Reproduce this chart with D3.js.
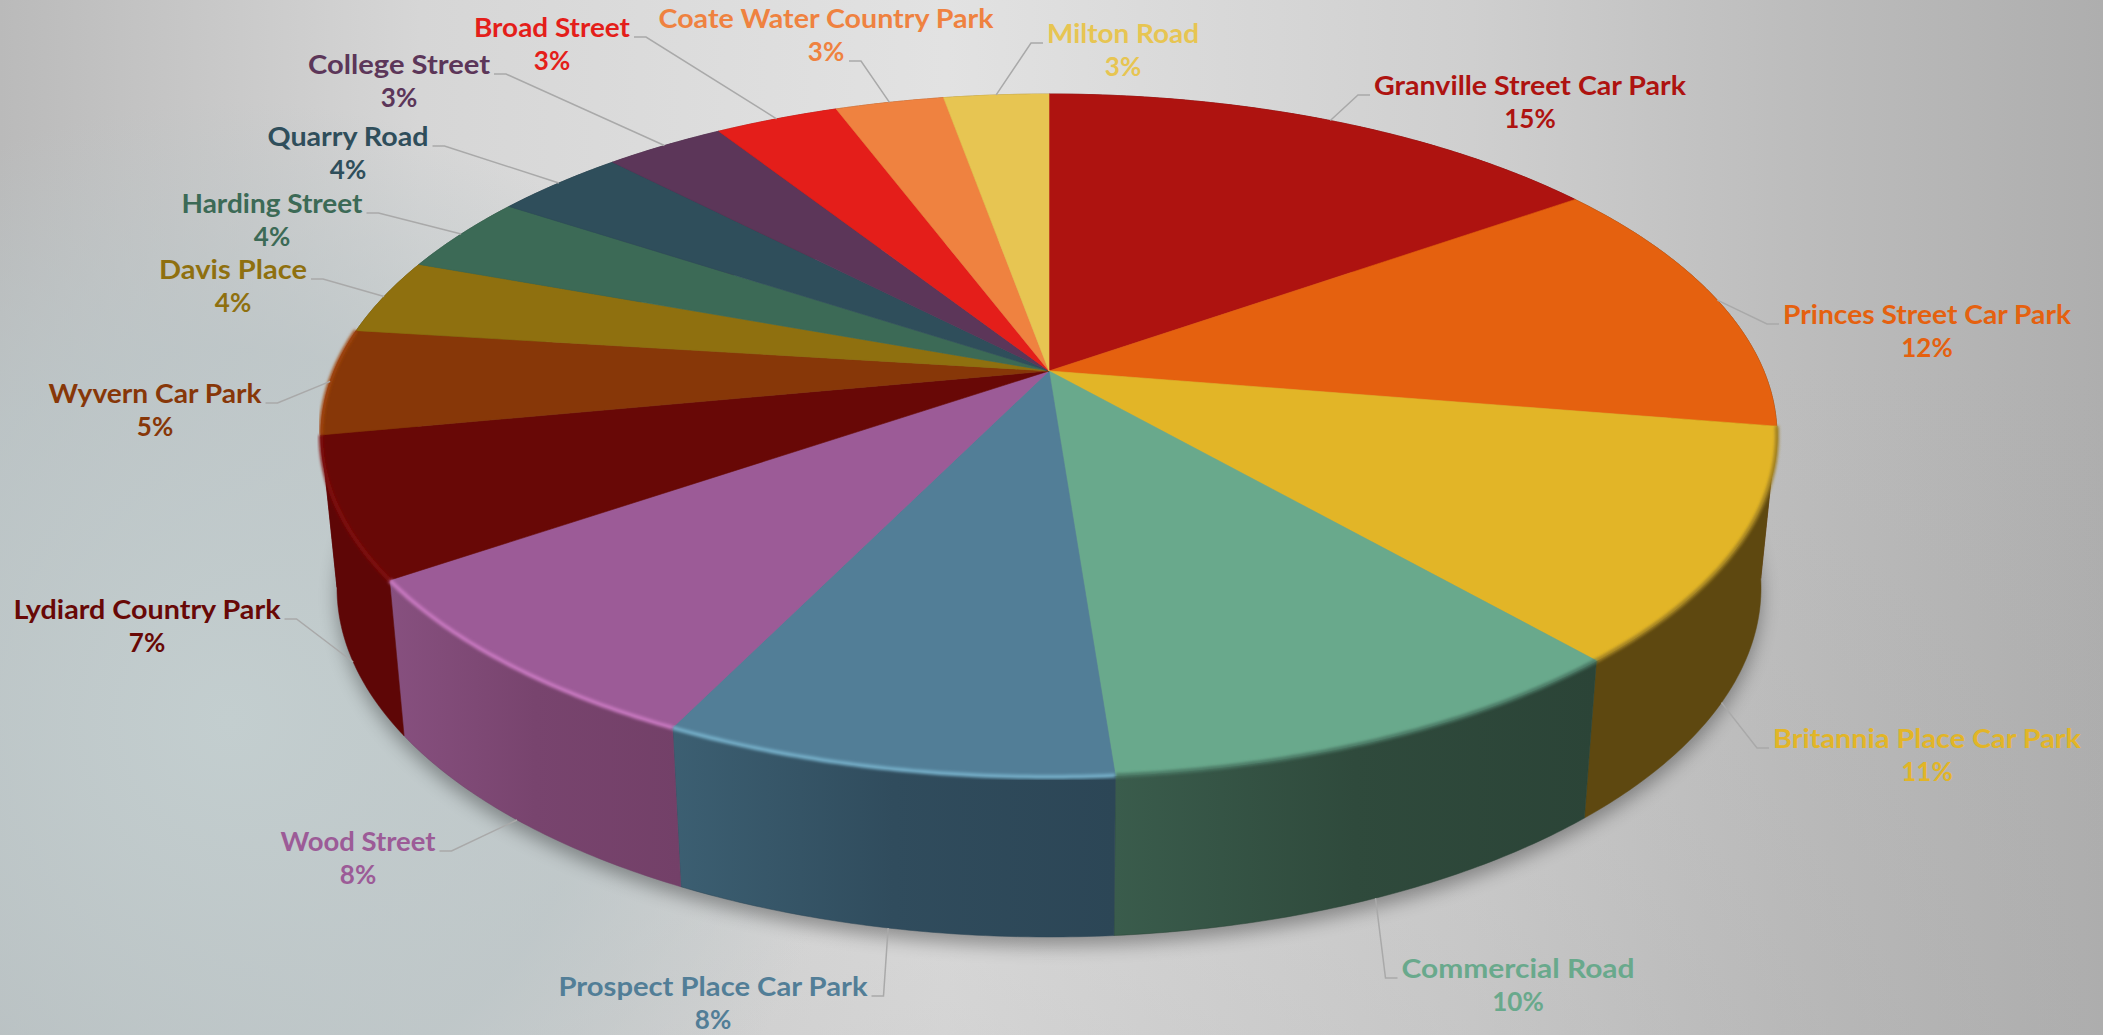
<!DOCTYPE html>
<html>
<head>
<meta charset="utf-8">
<script src="https://cdn.jsdelivr.net/npm/d3@7"></script>
<style>
html, body { margin: 0; padding: 0; background: #ccc; overflow: hidden; }
text { font-family: Lato, sans-serif; font-weight: 700; }
</style>
</head>
<body>
<div id="chart"></div>
<script>
// data, percentages (labels show them rounded)
var names = ["Granville Street Car Park", "Princes Street Car Park", "Britannia Place Car Park", "Commercial Road",
    "Prospect Place Car Park", "Wood Street", "Lydiard Country Park", "Wyvern Car Park", "Davis Place",
    "Harding Street", "Quarry Road", "College Street", "Broad Street", "Coate Water Country Park", "Milton Road"];
var values = [15.2, 12.4, 11.0, 10.2, 8.4, 8.2, 6.6, 5.0, 3.6, 3.7, 3.5, 3.2, 3.3, 2.9, 2.8];

// styles
var topColors = ["#ae1310", "#e5610f", "#e2b527", "#69a98c", "#527e97", "#9c5b97", "#680806", "#873708",
    "#8f700f", "#3c6a56", "#2f4e5b", "#5c3659", "#e41e1a", "#ef8240", "#e7c552"];
var wallLeft = ["#5e0a08", "#5e3008", "#5e4810", "#3a5c4c", "#3c5f72", "#87507f", "#5e0606", "#5e0606",
    "#5e4a0a", "#284638", "#1f343d", "#3d243b", "#8a1210", "#8a4a20", "#8a7430"];
var wallRight = ["#5e0a08", "#5e3008", "#5e4810", "#2b4437", "#2c4656", "#734068", "#5e0606", "#5e0606",
    "#5e4a0a", "#284638", "#1f343d", "#3d243b", "#8a1210", "#8a4a20", "#8a7430"];
var bevelColors = [null, null, "#a08020", "#4a7763", "#74aec8", "#c878c0", "#7f0f0a", "#a04510",
    null, null, null, null, null, null, null];

// label layout: centre x, baseline of the name, width of the name
var labelX = [1530, 1927, 1927, 1518, 713, 358, 147, 155, 233, 272, 348, 399, 552, 826, 1123];
var labelY = [95, 324, 748, 978, 996, 851, 619, 403, 279, 213, 146, 74, 37, 28, 43];
var labelW = [312, 288, 308, 233, 309, 155, 267, 213, 148, 181, 161, 182, 156, 335, 152];
var percentLeader = [13]; // this label's leader line meets the percent line, not the name

var width = 2103, height = 1035;

var svg = d3.select("#chart").append("svg")
    .attr("width", width)
    .attr("height", height)
    .style("display", "block");

var defs = svg.append("defs");

// the two rims of the pie seen in perspective
var topRim = { cx: 1049, cy: 435.5, rx: 728, ry: 341.5 };
var baseRim = { cx: 1049, cy: 588, rx: 712, ry: 349 };
var tilt = -0.189; // where the pie centre lands inside the rim, as a share of ry

function project(rim, angle) {
    // angle is clockwise from 12 o'clock on the flat pie
    var x = Math.sin(angle), y = -Math.cos(angle);
    var d = 1 + tilt * y;
    return [rim.cx + rim.rx * x * Math.sqrt(1 - tilt * tilt) / d,
        rim.cy + rim.ry * (y + tilt) / d];
}

function arcPoints(rim, a0, a1) {
    var n = Math.max(2, Math.ceil(Math.abs(a1 - a0) / 0.01));
    var t = d3.scaleLinear().domain([0, n]).range([a0, a1]);
    return d3.range(n + 1).map(function (i) { return project(rim, t(i)); });
}

var line = d3.line();
var centre = [topRim.cx, topRim.cy + topRim.ry * tilt];

var pie = d3.pie().sort(null).value(function (d) { return d; });
var slices = pie(values);

// background
var bg = defs.append("linearGradient").attr("id", "bgTop").attr("x1", 0).attr("x2", 1).attr("y1", 0).attr("y2", 0);
[[0, "#bababa"], [0.2, "#d6d6d6"], [0.45, "#e2e2e2"], [0.7, "#cfcfcf"], [0.85, "#bdbdbd"], [1, "#aeaeae"]].forEach(function (s) {
    bg.append("stop").attr("offset", s[0]).attr("stop-color", s[1]);
});
var bgBottom = defs.append("linearGradient").attr("id", "bgBottom").attr("x1", 0).attr("x2", 0).attr("y1", 0).attr("y2", 1);
bgBottom.append("stop").attr("offset", 0.35).attr("stop-color", "#aaa").attr("stop-opacity", 0);
bgBottom.append("stop").attr("offset", 1).attr("stop-color", "#aaa").attr("stop-opacity", 0.25);
var tint = defs.append("radialGradient").attr("id", "bgTint").attr("gradientUnits", "userSpaceOnUse")
    .attr("cx", 230).attr("cy", 720).attr("r", 620);
tint.append("stop").attr("offset", 0).attr("stop-color", "#c3cecf").attr("stop-opacity", 1);
tint.append("stop").attr("offset", 0.6).attr("stop-color", "#bcc6c8").attr("stop-opacity", 0.8);
tint.append("stop").attr("offset", 1).attr("stop-color", "#bcc6c8").attr("stop-opacity", 0);

svg.append("rect").attr("width", width).attr("height", height).attr("fill", "url(#bgTop)");
svg.append("rect").attr("width", width).attr("height", height).attr("fill", "url(#bgBottom)");
svg.append("rect").attr("width", width).attr("height", height).attr("fill", "url(#bgTint)");

defs.append("filter").attr("id", "shadow").attr("x", "-10%").attr("y", "-10%").attr("width", "120%").attr("height", "120%")
    .append("feGaussianBlur").attr("stdDeviation", 9);
defs.append("filter").attr("id", "soft").attr("x", "-5%").attr("y", "-5%").attr("width", "110%").attr("height", "110%")
    .append("feGaussianBlur").attr("stdDeviation", 1.8);

// shadow under the pie
svg.append("path")
    .attr("d", line(arcPoints(baseRim, 0, 2 * Math.PI)) + "Z")
    .attr("transform", "translate(0,9)")
    .attr("fill", "#000")
    .attr("opacity", 0.33)
    .attr("filter", "url(#shadow)");

// side walls
slices.forEach(function (d, i) {
    var g = defs.append("linearGradient").attr("id", "wall" + i);
    g.append("stop").attr("offset", 0).attr("stop-color", wallLeft[i]);
    g.append("stop").attr("offset", 0.5).attr("stop-color", d3.interpolateRgb(wallLeft[i], wallRight[i])(0.75));
    g.append("stop").attr("offset", 1).attr("stop-color", wallRight[i]);
});

svg.append("g").selectAll("path")
    .data(slices)
    .enter()
    .append("path")
    .attr("d", function (d) {
        var upper = arcPoints(topRim, d.startAngle, d.endAngle);
        var lower = arcPoints(baseRim, d.endAngle, d.startAngle);
        return line(upper.concat(lower)) + "Z";
    })
    .attr("fill", function (d, i) { return "url(#wall" + i + ")"; })
    .attr("stroke", function (d, i) { return wallRight[i]; })
    .attr("stroke-width", 0.5);

// top of the pie
svg.append("g").selectAll("path")
    .data(slices)
    .enter()
    .append("path")
    .attr("d", function (d) {
        return line([centre].concat(arcPoints(topRim, d.startAngle, d.endAngle))) + "Z";
    })
    .attr("fill", function (d, i) { return topColors[i]; })
    .attr("stroke", function (d, i) { return topColors[i]; })
    .attr("stroke-width", 0.6);

// lit bevel along the front rim
svg.append("g").selectAll("path")
    .data(slices.filter(function (d) { return bevelColors[d.index]; }))
    .enter()
    .append("path")
    .attr("d", function (d) { return line(arcPoints(topRim, d.startAngle, d.endAngle)); })
    .attr("fill", "none")
    .attr("stroke", function (d) { return bevelColors[d.index]; })
    .attr("stroke-width", 4)
    .attr("filter", "url(#soft)");

// labels and leader lines
var label = svg.append("g").selectAll("g")
    .data(slices)
    .enter()
    .append("g");

label.append("path")
    .attr("fill", "none")
    .attr("stroke", "#a9a9a9")
    .attr("stroke-width", 1.5)
    .attr("d", function (d, i) {
        var mid = (d.startAngle + d.endAngle) / 2;
        // on the visible front the line starts from the foot of the wall
        var front = mid > 1.7 && mid < 4.5;
        var start = project(front ? baseRim : topRim, mid);
        var side = start[0] < labelX[i] ? -1 : 1;
        var onPercent = percentLeader.indexOf(i) >= 0;
        var end = labelX[i] + side * ((onPercent ? 38 : labelW[i]) / 2 + 4);
        var y = onPercent ? labelY[i] + 33 : labelY[i];
        return line([start, [end + side * 12, y], [end, y]]);
    });

label.append("text")
    .attr("x", function (d, i) { return labelX[i]; })
    .attr("y", function (d, i) { return labelY[i]; })
    .attr("text-anchor", "middle")
    .attr("font-size", 26)
    .attr("fill", function (d, i) { return topColors[i]; })
    .attr("textLength", function (d, i) { return labelW[i]; })
    .attr("lengthAdjust", "spacingAndGlyphs")
    .text(function (d, i) { return names[i]; });

label.append("text")
    .attr("x", function (d, i) { return labelX[i]; })
    .attr("y", function (d, i) { return labelY[i] + 33; })
    .attr("text-anchor", "middle")
    .attr("font-size", 26)
    .attr("fill", function (d, i) { return topColors[i]; })
    .text(function (d) { return Math.round(d.value) + "%"; });
</script>
</body>
</html>
